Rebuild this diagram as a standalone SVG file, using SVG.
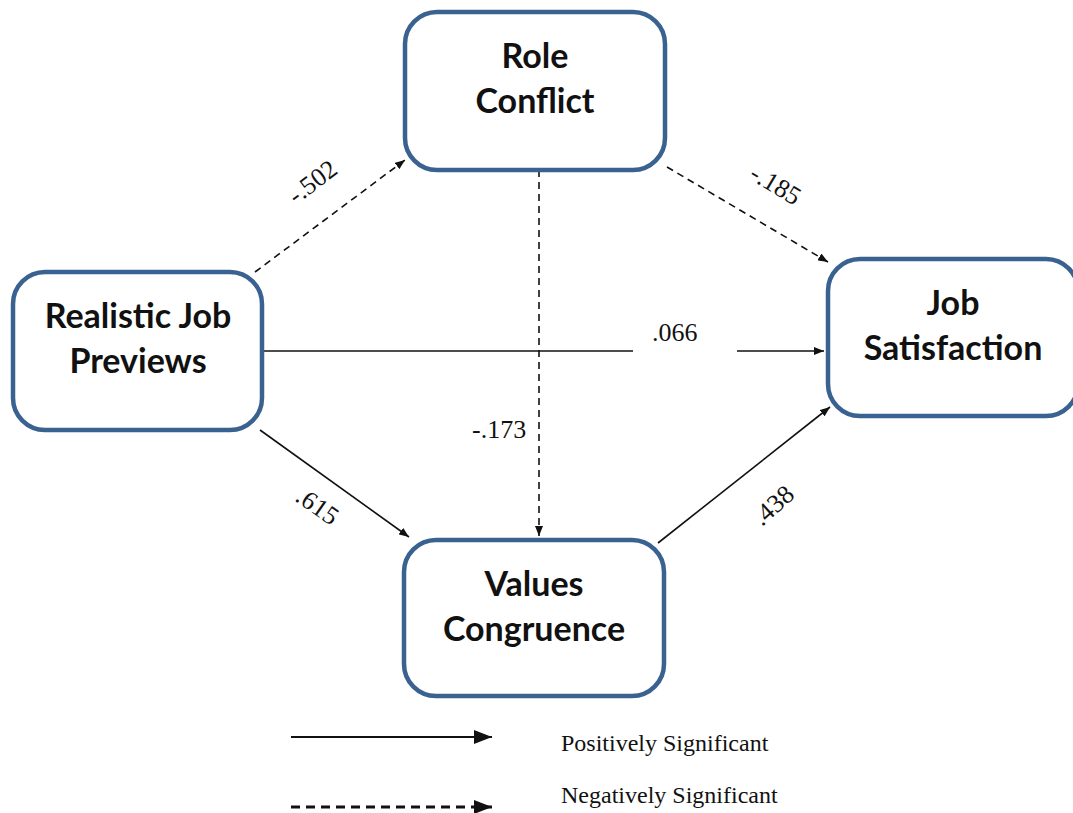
<svg xmlns="http://www.w3.org/2000/svg" width="1073" height="813" viewBox="0 0 1073 813">
<style>
.box{fill:#fff;stroke:#3a6291;stroke-width:4.5}
.nt{font-family:Lato,"Open Sans",sans-serif;font-weight:bold;font-size:34px;fill:#111;text-anchor:middle}
.lbl{font-family:"Liberation Serif",serif;font-size:26px;fill:#111}
.leg{font-family:"Liberation Serif",serif;font-size:24px;fill:#111}
.sol{stroke:#111;stroke-width:1.6;fill:none}
.dash{stroke:#111;stroke-width:1.6;fill:none;stroke-dasharray:7,5}
</style>
<defs>
<marker id="ah" markerWidth="10" markerHeight="8" refX="10" refY="4" orient="auto" markerUnits="userSpaceOnUse">
<path d="M0,0 L10,4 L0,8 Z" fill="#111"/>
</marker>
<marker id="ahb" markerWidth="18" markerHeight="14" refX="18" refY="7" orient="auto" markerUnits="userSpaceOnUse">
<path d="M0,0 L18,7 L0,14 Z" fill="#111"/>
</marker>
</defs>
<g id="connectors">
<line class="dash" x1="255" y1="272" x2="405" y2="160" marker-end="url(#ah)"/>
<line class="dash" x1="667" y1="167" x2="828" y2="262" marker-end="url(#ah)"/>
<line class="dash" x1="539" y1="170" x2="539" y2="536" marker-end="url(#ah)"/>
<line class="sol" x1="262" y1="351" x2="633" y2="351"/>
<line class="sol" x1="737" y1="351" x2="824" y2="351" marker-end="url(#ah)"/>
<line class="sol" x1="260" y1="430" x2="409" y2="537" marker-end="url(#ah)"/>
<line class="sol" x1="658" y1="543" x2="830" y2="407" marker-end="url(#ah)"/>
<text class="lbl" transform="translate(296,205) rotate(-37)">-.502</text>
<text class="lbl" transform="translate(748,178) rotate(31)">-.185</text>
<text class="lbl" x="652" y="341">.066</text>
<text class="lbl" x="472" y="438">-.173</text>
<text class="lbl" transform="translate(294,500) rotate(35)">.615</text>
<text class="lbl" transform="translate(762,527) rotate(-42)">.438</text>
</g>
<g id="legend">
<line x1="291" y1="737" x2="492" y2="737" marker-end="url(#ahb)" style="stroke:#111;stroke-width:2.2"/>
<line x1="291" y1="807" x2="492" y2="807" marker-end="url(#ahb)" style="stroke:#111;stroke-width:3;stroke-dasharray:9,6"/>
<text class="leg" x="561" y="751">Positively Significant</text>
<text class="leg" x="561" y="803">Negatively Significant</text>
</g>
<g id="role-conflict">
<rect class="box" x="405" y="12" width="260" height="158" rx="32"/>
<text class="nt" x="535" y="68">Role</text>
<text class="nt" x="535" y="113">Conflict</text>
</g>
<g id="realistic-job-previews">
<rect class="box" x="13" y="272" width="249" height="158" rx="32"/>
<text class="nt" x="138" y="328">Realistic Job</text>
<text class="nt" x="138" y="373">Previews</text>
</g>
<g id="job-satisfaction">
<rect class="box" x="828" y="259" width="250" height="157" rx="32"/>
<text class="nt" x="953" y="315">Job</text>
<text class="nt" x="953" y="360">Satisfaction</text>
</g>
<g id="values-congruence">
<rect class="box" x="404" y="540" width="260" height="156" rx="32"/>
<text class="nt" x="534" y="596">Values</text>
<text class="nt" x="534" y="641">Congruence</text>
</g>
</svg>
